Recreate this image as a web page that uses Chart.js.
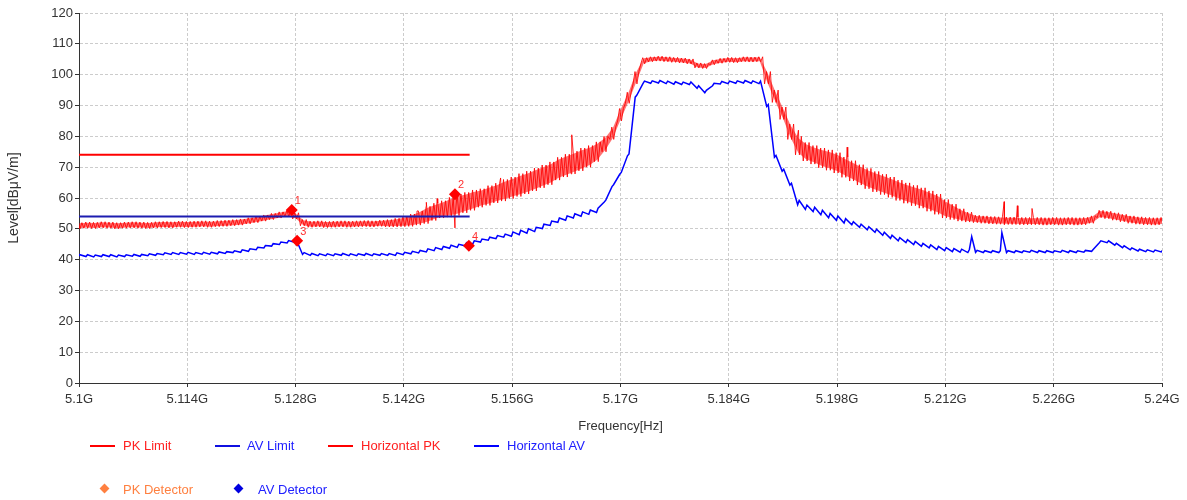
<!DOCTYPE html>
<html>
<head>
<meta charset="utf-8">
<script src="https://cdn.jsdelivr.net/npm/chart.js@4/dist/chart.umd.min.js"></script>
<style>
  body { margin: 0; background: #fff; font-family: 'Liberation Sans', Arial, sans-serif; }
  #wrap { position: relative; width: 1187px; height: 500px; }
  .lg { position: absolute; font-size: 13px; line-height: 15px; white-space: nowrap; }
  .ln { position: absolute; height: 2px; width: 25px; }
  .dm { position: absolute; width: 7px; height: 7px; transform: rotate(45deg); }
</style>
</head>
<body>
<div id="wrap">
  <canvas id="chart" width="1187" height="500"></canvas>
  <div class="ln" style="left:90px;top:445px;background:#ff0000"></div>
  <div class="lg" style="left:123px;top:438px;color:#ff2020">PK Limit</div>
  <div class="ln" style="left:215px;top:445px;background:#1010e0"></div>
  <div class="lg" style="left:247px;top:438px;color:#2020ff">AV Limit</div>
  <div class="ln" style="left:328px;top:445px;background:#ff0000"></div>
  <div class="lg" style="left:361px;top:438px;color:#ff2020">Horizontal PK</div>
  <div class="ln" style="left:474px;top:445px;background:#0000ff"></div>
  <div class="lg" style="left:507px;top:438px;color:#2020ff">Horizontal AV</div>
  <div class="dm" style="left:101px;top:485px;background:#ff8040"></div>
  <div class="lg" style="left:123px;top:482px;color:#ff8040">PK Detector</div>
  <div class="dm" style="left:235px;top:485px;background:#0000e0"></div>
  <div class="lg" style="left:258px;top:482px;color:#2020ff">AV Detector</div>
</div>
<script>
// frequency grid of the traces: 5.100 GHz .. 5.240 GHz, 1 MHz apart
const freqStart = 5.1;
const freqStep = 0.001;

// Horizontal PK: level and half-width of the noise band (dBuV/m)
const pkLevel = [
  51.0, 51.2, 51.1, 51.3, 51.2, 51.0, 51.2, 51.3, 51.2, 51.1,
  51.3, 51.4, 51.3, 51.5, 51.4, 51.5, 51.6, 51.5, 51.7, 51.8,
  52.0, 52.2, 52.6, 53.0, 53.5, 54.0, 54.5, 55.0, 54.2, 52.0,
  51.5, 51.6, 51.4, 51.5, 51.6, 51.5, 51.6, 51.7, 51.6, 51.8,
  51.8, 52.0, 52.3, 52.8, 53.5, 54.5, 55.5, 56.3, 57.0, 57.8,
  58.5, 59.3, 60.0, 60.8, 61.6, 62.5, 63.3, 64.2, 65.0, 66.0,
  67.0, 68.0, 69.5, 70.5, 71.5, 72.5, 73.5, 75.0, 77.5, 81.0,
  87.0, 92.5, 99.0, 104.5, 105.0, 105.2, 105.0, 104.8, 104.6, 104.3,
  103.0, 102.8, 104.0, 104.5, 104.8, 104.7, 105.0, 104.9, 105.0, 99.0,
  93.0, 87.5, 81.5, 77.0, 75.0, 74.0, 73.0, 72.3, 71.4, 70.0,
  68.8, 67.5, 66.3, 65.3, 64.4, 63.5, 62.5, 61.6, 60.8, 60.0,
  59.0, 58.0, 56.5, 55.5, 54.5, 53.8, 53.2, 53.0, 52.8, 52.7,
  52.6, 52.6, 52.5, 52.5, 52.5, 52.4, 52.5, 52.4, 52.5, 52.4,
  52.5, 53.0, 54.8, 54.5, 54.0, 53.5, 53.0, 52.7, 52.5, 52.4,
  52.5
];
const pkSpread = [
  1.0, 1.0, 1.0, 1.0, 1.0, 1.0, 1.0, 1.0, 1.0, 1.0,
  1.0, 1.0, 1.0, 1.0, 1.0, 1.0, 1.0, 1.0, 1.0, 1.0,
  1.0, 1.0, 1.0, 1.0, 1.0, 1.0, 1.0, 1.0, 1.0, 1.0,
  1.0, 1.0, 1.0, 1.0, 1.0, 1.0, 1.0, 1.0, 1.0, 1.0,
  1.2, 1.4, 1.6, 2.0, 2.3, 2.8, 2.8, 2.8, 3.2, 3.5,
  3.3, 3.3, 3.0, 3.2, 3.2, 3.5, 3.5, 3.7, 3.7, 3.7,
  3.7, 3.7, 3.7, 3.7, 3.7, 3.7, 3.5, 3.2, 2.5, 2.0,
  2.0, 1.8, 2.0, 1.0, 0.8, 0.8, 0.8, 0.8, 0.8, 0.8,
  0.8, 0.8, 0.8, 0.8, 0.8, 0.8, 0.8, 0.8, 0.8, 2.0,
  2.0, 2.0, 2.5, 3.0, 3.0, 3.0, 3.2, 3.3, 3.3, 3.3,
  3.3, 3.3, 3.3, 3.3, 3.3, 3.3, 3.3, 3.3, 3.3, 3.3,
  3.3, 3.3, 3.0, 2.5, 2.0, 1.6, 1.2, 1.2, 1.2, 1.2,
  1.2, 1.2, 1.2, 1.2, 1.2, 1.2, 1.2, 1.2, 1.2, 1.2,
  1.2, 1.2, 1.2, 1.2, 1.2, 1.2, 1.2, 1.2, 1.2, 1.2,
  1.2
];
const pkSpikes = [
  [5.1437, 55.8], [5.1449, 58.6], [5.1463, 59.8], [5.1486, 50.3],
  [5.1545, 66.5], [5.1637, 80.5], [5.1930, 82.0], [5.1993, 76.5],
  [5.2196, 58.8], [5.2213, 57.5], [5.2232, 56.6]
];

// Horizontal AV
const avLevel = [
  41.3, 41.3, 41.2, 41.3, 41.3, 41.2, 41.3, 41.4, 41.4, 41.6,
  41.7, 41.9, 42.0, 42.0, 42.1, 42.0, 42.1, 42.1, 42.2, 42.3,
  42.6, 42.8, 43.1, 43.6, 44.2, 44.8, 45.3, 45.8, 46.0, 42.0,
  41.7, 41.6, 41.6, 41.6, 41.7, 41.6, 41.6, 41.7, 41.6, 41.7,
  41.7, 41.8, 42.0, 42.3, 42.6, 43.0, 43.4, 43.8, 44.2, 44.5,
  45.0, 45.6, 46.2, 46.8, 47.3, 47.8, 48.3, 48.8, 49.3, 49.8,
  50.8, 51.8, 52.8, 53.5, 54.2, 54.8, 55.4, 56.0, 59.0, 64.0,
  68.0, 74.0, 93.0, 97.5, 97.6, 97.7, 97.5, 97.3, 97.2, 97.2,
  96.0, 94.5, 96.8, 97.4, 97.5, 97.6, 97.7, 97.6, 97.5, 90.0,
  73.5, 69.0, 64.5, 58.5, 57.0, 56.3, 55.3, 54.3, 53.5, 52.6,
  51.8, 51.0, 50.2, 49.4, 48.4, 47.4, 46.6, 46.0, 45.4, 44.8,
  44.3, 43.8, 43.4, 43.1, 42.9, 42.8, 42.7, 42.6, 42.6, 42.6,
  42.6, 42.6, 42.6, 42.7, 42.6, 42.6, 42.6, 42.7, 42.6, 42.6,
  42.7, 43.0, 45.8, 45.8, 45.0, 44.2, 43.5, 43.1, 42.9, 42.8,
  42.8
];
const avSpread = [
  0.3, 0.3, 0.3, 0.3, 0.3, 0.3, 0.3, 0.3, 0.3, 0.3,
  0.3, 0.3, 0.3, 0.3, 0.3, 0.3, 0.3, 0.3, 0.3, 0.3,
  0.3, 0.4, 0.4, 0.4, 0.4, 0.4, 0.4, 0.4, 0.4, 0.3,
  0.3, 0.3, 0.3, 0.3, 0.3, 0.3, 0.3, 0.3, 0.3, 0.3,
  0.3, 0.4, 0.4, 0.4, 0.4, 0.5, 0.5, 0.5, 0.5, 0.5,
  0.5, 0.5, 0.5, 0.5, 0.5, 0.5, 0.7, 0.7, 0.7, 0.7,
  0.7, 0.7, 0.7, 0.7, 0.7, 0.7, 0.7, 0.7, 0.3, 0.3,
  0.3, 0.3, 0.3, 0.4, 0.4, 0.4, 0.4, 0.4, 0.4, 0.4,
  0.4, 0.4, 0.4, 0.4, 0.4, 0.4, 0.4, 0.4, 0.4, 0.3,
  0.3, 0.3, 0.3, 0.7, 0.7, 0.7, 0.7, 0.7, 0.7, 0.7,
  0.5, 0.5, 0.5, 0.5, 0.5, 0.5, 0.5, 0.5, 0.5, 0.5,
  0.5, 0.5, 0.5, 0.5, 0.5, 0.5, 0.3, 0.3, 0.3, 0.3,
  0.3, 0.3, 0.3, 0.3, 0.3, 0.3, 0.3, 0.3, 0.3, 0.3,
  0.3, 0.3, 0.3, 0.3, 0.3, 0.3, 0.3, 0.3, 0.3, 0.3,
  0.3
];
const avSpikes = [[5.2154, 47.5], [5.2193, 48.8]];

// limits (5.10 - 5.15 GHz)
const limitFreqs = [5.1, 5.1505];
const pkLimit = [74, 74];
const avLimit = [54, 54];

// detector marks
const pkDetFreqs = [5.1275, 5.1486];
const pkDetLevels = [56.1, 61.2];
const pkDetNames = ['1', '2'];
const avDetFreqs = [5.1282, 5.1504];
const avDetLevels = [46.1, 44.5];
const avDetNames = ['3', '4'];

const xTicks = [5.1, 5.114, 5.128, 5.142, 5.156, 5.17, 5.184, 5.198, 5.212, 5.226, 5.24];
const xTickLabels = ['5.1G', '5.114G', '5.128G', '5.142G', '5.156G', '5.17G', '5.184G', '5.198G', '5.212G', '5.226G', '5.24G'];

// PK trace: alternates low / high edge of the band, 4 points per MHz
function buildNoisy(level, spread, spikes) {
  const pts = [];
  const q = freqStep / 4;
  for (let i = 0; i < level.length; i++) {
    const f = freqStart + i * freqStep;
    pts.push({ x: f - 1.5 * q, y: level[i] - spread[i] });
    pts.push({ x: f - 0.5 * q, y: level[i] + spread[i] });
    pts.push({ x: f + 0.5 * q, y: level[i] - spread[i] });
    pts.push({ x: f + 1.5 * q, y: level[i] + spread[i] });
  }
  spikes.forEach(s => pts.push({ x: s[0], y: s[1] }));
  pts.sort((a, b) => a.x - b.x);
  return pts;
}
// AV trace: a narrow low / high pair at each MHz
function buildFine(level, spread, spikes) {
  const pts = [];
  const q = freqStep / 10;
  for (let i = 0; i < level.length; i++) {
    const f = freqStart + i * freqStep;
    pts.push({ x: f - q, y: level[i] - spread[i] });
    pts.push({ x: f + q, y: level[i] + spread[i] });
  }
  spikes.forEach(s => pts.push({ x: s[0], y: s[1] }));
  pts.sort((a, b) => a.x - b.x);
  return pts;
}
// one edge of the PK band, used for the shaded fill
function buildEdge(level, spread, sign) {
  return level.map((v, i) => ({ x: freqStart + i * freqStep, y: v + sign * spread[i] * 0.8 }));
}
const pairs = (xs, ys) => xs.map((x, i) => ({ x: x, y: ys[i] }));

const detLabels = {
  id: 'detLabels',
  afterDatasetsDraw(chart) {
    const ctx = chart.ctx;
    ctx.save();
    ctx.font = '11px "Liberation Sans", Arial, sans-serif';
    ctx.fillStyle = '#ff3030';
    ctx.textBaseline = 'middle';
    [[0, pkDetNames], [1, avDetNames]].forEach(([di, names]) => {
      chart.getDatasetMeta(di).data.forEach((p, i) => {
        ctx.fillText(names[i], p.x + 3, p.y - 9);
      });
    });
    ctx.restore();
  }
};

const tickFont = { family: '"Liberation Sans", Arial, sans-serif', size: 13 };

new Chart(document.getElementById('chart').getContext('2d'), {
  type: 'line',
  data: {
    datasets: [
      {
        label: 'PK Detector',
        data: pairs(pkDetFreqs, pkDetLevels),
        showLine: false,
        pointStyle: 'rectRot',
        pointRadius: 6,
        backgroundColor: '#ff0000',
        borderColor: '#ff0000',
        borderWidth: 0
      },
      {
        label: 'AV Detector',
        data: pairs(avDetFreqs, avDetLevels),
        showLine: false,
        pointStyle: 'rectRot',
        pointRadius: 6,
        backgroundColor: '#ff0000',
        borderColor: '#ff0000',
        borderWidth: 0
      },
      {
        label: 'PK Limit',
        data: pairs(limitFreqs, pkLimit),
        borderColor: '#ff0000',
        borderWidth: 2,
        pointRadius: 0
      },
      {
        label: 'AV Limit',
        data: pairs(limitFreqs, avLimit),
        borderColor: '#1c1cb0',
        borderWidth: 2,
        pointRadius: 0
      },
      {
        label: 'Horizontal PK',
        data: buildNoisy(pkLevel, pkSpread, pkSpikes),
        borderColor: 'rgba(255,0,0,0.85)',
        borderWidth: 1,
        pointRadius: 0
      },
      {
        label: 'pk band top',
        data: buildEdge(pkLevel, pkSpread, 1),
        borderWidth: 0,
        pointRadius: 0,
        backgroundColor: 'rgba(255,0,0,0.55)',
        fill: '+1'
      },
      {
        label: 'pk band bottom',
        data: buildEdge(pkLevel, pkSpread, -1),
        borderWidth: 0,
        pointRadius: 0
      },
      {
        label: 'Horizontal AV',
        data: buildFine(avLevel, avSpread, avSpikes),
        borderColor: '#0000ff',
        borderWidth: 1.5,
        pointRadius: 0
      }
    ]
  },
  options: {
    responsive: false,
    animation: false,
    layout: { padding: { top: 13, right: 25, bottom: 62, left: 0 } },
    plugins: {
      legend: { display: false },
      tooltip: { enabled: false }
    },
    scales: {
      x: {
        type: 'linear',
        min: 5.1,
        max: 5.24,
        afterBuildTicks: s => { s.ticks = xTicks.map(v => ({ value: v })); },
        afterFit: s => { s.height = 55; },
        ticks: {
          callback: (v, i) => xTickLabels[i],
          color: '#333',
          font: tickFont,
          padding: 5,
          maxRotation: 0,
          autoSkip: false
        },
        grid: { color: '#cccccc', tickColor: '#333', tickLength: 4, tickBorderDash: [] },
        border: { color: '#333', width: 1, dash: [3, 2] },
        title: {
          display: true,
          text: 'Frequency[Hz]',
          color: '#333',
          font: tickFont,
          padding: { top: 0, bottom: 4 }
        }
      },
      y: {
        min: 0,
        max: 120,
        afterFit: s => { s.width = 79; },
        ticks: { stepSize: 10, color: '#333', font: tickFont, padding: 2 },
        grid: { color: '#cccccc', tickColor: '#333', tickLength: 4, tickBorderDash: [] },
        border: { color: '#333', width: 1, dash: [3, 2] },
        title: {
          display: true,
          text: 'Level[dBμV/m]',
          color: '#333',
          font: { family: '"Liberation Sans", Arial, sans-serif', size: 14 },
          padding: { top: 6, bottom: 0 }
        }
      }
    }
  },
  plugins: [detLabels]
});
</script>
</body>
</html>
